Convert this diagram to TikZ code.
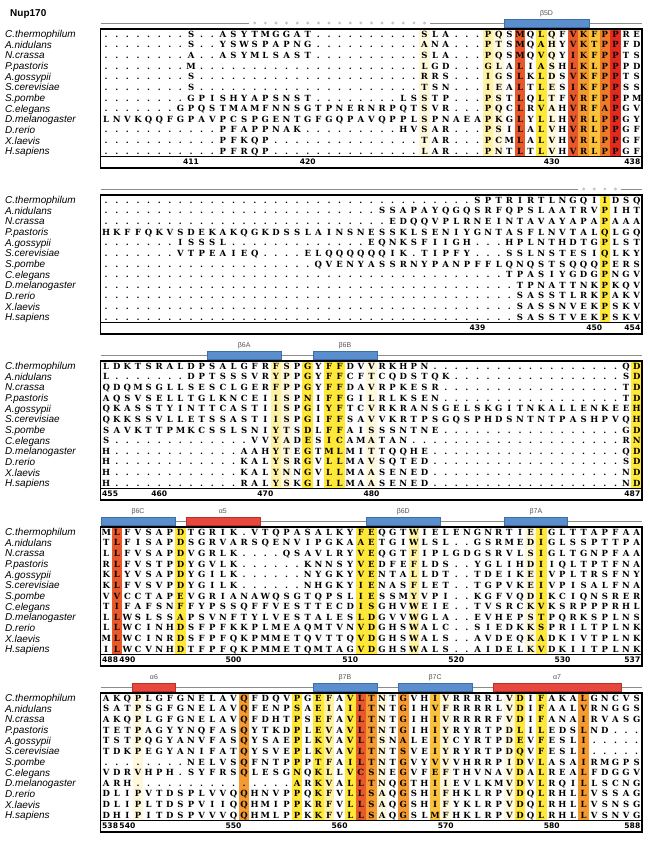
\documentclass[tikz,border=0pt]{standalone}
\usepackage{fontspec}
\setmainfont{Liberation Sans}
\newfontfamily\seqfont{DejaVu Serif}
\newfontfamily\numfont{DejaVu Sans}
\definecolor{cA}{HTML}{FFF8DC}
\definecolor{cB}{HTML}{FFF3A3}
\definecolor{cC}{HTML}{FFE838}
\definecolor{cD}{HTML}{FCC23C}
\definecolor{cE}{HTML}{F49A30}
\definecolor{cF}{HTML}{EE7A2C}
\definecolor{cG}{HTML}{E8582A}
\definecolor{cH}{HTML}{E42A1E}
\definecolor{ssblue}{HTML}{5B8ECC}
\definecolor{ssblueD}{HTML}{3E6FAA}
\definecolor{ssred}{HTML}{E8473D}
\definecolor{ssredD}{HTML}{B83228}
\definecolor{linegray}{HTML}{8C8C8C}
\definecolor{dotgray}{HTML}{C4C4C4}
\definecolor{labgray}{HTML}{555555}
\newcount\colc
\def\BF{0}
\def\blk{0}
\def\rowid{0}
\def\dorow#1#2{\colc=0 \def\rowid{#1}\rowloop#2\relax}
\def\rowloop#1{\ifx#1\relax\else\advance\colc by 1\relax\node[seqch] (s\blk-\rowid-\the\colc) at ({100.9+(\the\colc-0.5)*10.61},{\BF+\rowid*10.65+3.1}) {#1};\expandafter\rowloop\fi}
\newcommand\colsh[2]{\fill[#2] ({100.9+(#1-1)*10.61},{\BF-5}) rectangle ({100.9+#1*10.61},{\BF+122.5});}
\newcommand\numlab[2]{\node[numst] (num\blk-#1) at ({100.9+(#1-0.5)*10.61},{\BF+130.8}) {#2};}
\newcommand\numlabL[1]{\node[numst,anchor=base west] (numL\blk) at (102,{\BF+130.8}) {#1};}
\newcommand\numlabR[1]{\node[numst,anchor=base east] (numR\blk) at (640.5,{\BF+130.8}) {#1};}
\newcommand\ssbox[4]{\draw[#1] ({100.9+(#2-1)*10.61},{\BF-15.2}) rectangle ({100.9+#3*10.61},{\BF-6.8});
  \node[sslab] (lab\blk-#2) at ({100.9+(#2+#3-1)/2*10.61},{\BF-20.5}) {#4};}
\newcommand\ssdot[1]{\fill[dotgray] ({100.9+(#1-0.5)*10.61},{\BF-11}) circle (1.6pt);}
\newcommand\ssfull{\draw[ssline] (100.9,{\BF-11}) -- (642,{\BF-11});}
\newcommand\alnframe{\draw[alnframest] (100.5,{\BF-5}) rectangle (642,{\BF+134});
  \draw[sepst] (100.5,{\BF+122.5}) -- (642,{\BF+122.5});}
\newcommand\spnames{\foreach \nmx [count=\i from 0] in {C.thermophilum,A.nidulans,N.crassa,P.pastoris,A.gossypii,S.cerevisiae,S.pombe,C.elegans,D.melanogaster,D.rerio,X.laevis,H.sapiens}{\node[namest] (nm\blk-\i) at (5,{\BF+\i*10.65+3.6}) {\nmx};}}
\begin{document}
\begin{tikzpicture}[x=1pt,y=-1pt,
  seqch/.style={anchor=base,inner sep=0pt,font=\seqfont\bfseries\fontsize{8.5}{10}\selectfont},
  namest/.style={anchor=base west,inner sep=0pt,font=\itshape\fontsize{10}{12}\selectfont},
  numst/.style={anchor=base,inner sep=0pt,font=\numfont\bfseries\fontsize{7.6}{10}\selectfont},
  sslab/.style={inner sep=0pt,font=\fontsize{7}{8}\selectfont,text=labgray},
  ssline/.style={draw=linegray,line width=0.8pt},
  bluebox/.style={fill=ssblue,draw=ssblueD,line width=0.5pt},
  redbox/.style={fill=ssred,draw=ssredD,line width=0.5pt},
  alnframest/.style={draw=black,line width=1.2pt},
  sepst/.style={draw=black,line width=0.8pt}]
\useasboundingbox[fill=white] (0,0) rectangle (650,843);
\node[anchor=base west,inner sep=0pt,font=\bfseries\fontsize{10}{12}\selectfont] (title) at (10,17) {Nup170};
% ---------------- block 1
\def\BF{34}\def\blk{1}
\colsh{31}{cA}\colsh{37}{cB}\colsh{38}{cA}\colsh{40}{cG}\colsh{42}{cC}\colsh{43}{cA}
\colsh{45}{cG}\colsh{46}{cE}\colsh{47}{cD}\colsh{48}{cF}\colsh{49}{cH}
\draw[ssline] (100.9,{\BF-11}) -- ({100.9+14*10.61},{\BF-11});
\foreach \k in {15,...,31}{\ssdot{\k}}
\draw[ssline] ({100.9+31*10.61},{\BF-11}) -- (642,{\BF-11});
\ssbox{bluebox}{39}{46}{β5D}
\dorow{0}{........S..ASYTMGGAT..........SLA...PQSMQLQFVKFPPRE}
\dorow{1}{........S..YSWSPAPNG..........ANA...PTSMQAHYVKTPPFD}
\dorow{2}{........A..ASYMLSAST..........SLA...PQSMQVQYIKFPPTS}
\dorow{3}{........M.....................LGD...GLALIASHLKLPPPD}
\dorow{4}{........S.....................RRS...IGSLKLDSVKFPPTS}
\dorow{5}{........S.....................TSN...IEALTLESIKFPPSS}
\dorow{6}{........GPISHYAPSNST........LSSTP...PSTLQLTFVRFPPPM}
\dorow{7}{.......GPQSTMAMFNNSGTPNERNRPQTSVR...PQCLRVAHVRFAPGV}
\dorow{8}{LNVKQQFGPAVPCSPGENTGFGQPAVQPPLSPNAEAPKGLYLLHVRLPPGY}
\dorow{9}{...........PFAPPNAK.........HVSAR...PSILALVHVRLPPGF}
\dorow{10}{...........PFKQP..............TAR...PCMLALVHVRLPPGF}
\dorow{11}{...........PFRQP..............LAR...PNTLTLVHVRLPPGF}
\spnames\alnframe
\numlab{9}{411}\numlab{20}{420}\numlab{43}{430}\numlabR{438}
% ---------------- block 2
\def\BF{200}\def\blk{2}
\colsh{48}{cC}
\draw[ssline] (100.9,{\BF-11}) -- ({100.9+45*10.61},{\BF-11});
\foreach \k in {46,...,49}{\ssdot{\k}}
\draw[ssline] ({100.9+49*10.61},{\BF-11}) -- (642,{\BF-11});
\dorow{0}{...................................SPTRIRTLNGQIIDSQ}
\dorow{1}{..........................SSAPAYQGQSRFQPSLAATRVPIHT}
\dorow{2}{...........................EDQQVPLRNEINTAVAYAPAPAAA}
\dorow{3}{HKFFQKVSDEKAKQGKDSSLAINSNESSKLSENIYGNTASFLNVTALQLGQ}
\dorow{4}{.......ISSSL.............EQNKSFIIGH...HPLNTHDTGPLST}
\dorow{5}{.......VTPEAIEQ....ELQQQQQQIK.TIPFY...SSLNSTESIQLKY}
\dorow{6}{....................QVENYASSRNYPANPFFLQNQSTSQQQPERS}
\dorow{7}{......................................TPASIYGDGPNGV}
\dorow{8}{.......................................TPNATTNKPKQV}
\dorow{9}{.......................................SASSTLRKPAKV}
\dorow{10}{.......................................SASSNVEKPSKV}
\dorow{11}{.......................................SASSTVEKPSKV}
\spnames\alnframe
\numlab{36}{439}\numlab{47}{450}\numlabR{454}
% ---------------- block 3
\def\BF{366}\def\blk{3}
\colsh{17}{cB}\colsh{18}{cA}\colsh{20}{cC}\colsh{22}{cC}\colsh{23}{cC}\colsh{26}{cA}\colsh{51}{cC}
\ssfull
\ssbox{bluebox}{11}{17}{β6A}
\ssbox{bluebox}{21}{26}{β6B}
\dorow{0}{LDKTSRALDPSALGFRFSPGYFFDVVRKHPN..................QD}
\dorow{1}{L.......DPTSSSVRYPPGYFFCFTCQDSTQK................SD}
\dorow{2}{QDQMSGLLSESCLGERFPPGYFFDAVRPKESR.................TD}
\dorow{3}{AQSVSELLTGLKNCEIISPNIFFGILRLKSEN.................TD}
\dorow{4}{QKASSTYINTTCASTIISPGIYFTCVRKRANSGELSKGITNKALLENKEEH}
\dorow{5}{QKKSSVLLETSSASTIISPGIFFSAVVKRTPSGQSPHDSNTNTPASHPVQH}
\dorow{6}{SAVKTTPMKCSSLSNIYTSDLFFAISSSNTNE.................GD}
\dorow{7}{S.............VVYADESICAMATAN....................RN}
\dorow{8}{H............AAHYTEGTMLMITTQQHE..................QD}
\dorow{9}{H............KALYSRGVLLMAVSQTED..................SD}
\dorow{10}{H............KALYNNGVLLMAASENED..................ND}
\dorow{11}{H............RALYSKGILLMAASENED..................ND}
\spnames\alnframe
\numlabL{455}\numlab{6}{460}\numlab{16}{470}\numlab{26}{480}\numlabR{487}
% ---------------- block 4
\def\BF{532}\def\blk{4}
\colsh{2}{cG}\colsh{8}{cC}\colsh{25}{cC}\colsh{26}{cC}\colsh{30}{cB}\colsh{41}{cA}\colsh{42}{cC}
\ssfull
\ssbox{bluebox}{1}{7}{β6C}
\ssbox{redbox}{9}{15}{α5}
\ssbox{bluebox}{26}{32}{β6D}
\ssbox{bluebox}{39}{44}{β7A}
\dorow{0}{MLFVSAPDTGRIK.VTQPASALKYFEQGTWIELENGNRTIEIGLTTAPFAA}
\dorow{1}{TLFISAPDSGRVARSQENVIPGKAAETGIWLSL..GSRMEDIGLSSPTTPA}
\dorow{2}{LLFVSAPDVGRLK....QSAVLRYVEQGTFIPLGDGSRVLSIGLTGNPFAA}
\dorow{3}{RLFVSTPDYGVLK......KNNSYVEDFEFLDS..YGLIHDIIQLTPTFNA}
\dorow{4}{KLYVSAPDYGILK......NYGKYVENTALLDT..TDEIKEIVPLTRSFNY}
\dorow{5}{KLFVSVPDYGILK......NHGKYIENASFLET..TGPVKEIVPISALFNA}
\dorow{6}{VVCCTAPEVGRIANAWQSGTQPSLIESSMYVPI..KGFVQDIKCIQNSRER}
\dorow{7}{TIFAFSNFFYPSSQFFVESTTECDISGHVWEIE..TVSRCKVKSRPPPRHL}
\dorow{8}{LLWSLSSAPSVNFTYLVESTALESLDGVVWGLA..EVHEPSTPQRKSPLNS}
\dorow{9}{LLWCINHDSFPFKKPLMEAQMTVNVDGHSWALC..SIEDKKSPRILTPLNK}
\dorow{10}{MLWCINRDSFPFQKPMMETQVTTQVDGHSWALS..AVDEQKADKIVTPLNK}
\dorow{11}{ILWCVNHDTFPFQKPMMETQMTAGVDGHSWALS..AIDELKVDKIITPLNK}
\spnames\alnframe
\numlabL{488}\numlab{3}{490}\numlab{13}{500}\numlab{24}{510}\numlab{34}{520}\numlab{44}{530}\numlabR{537}
% ---------------- block 5
\def\BF{698}\def\blk{5}
\colsh{4}{cA}\colsh{14}{cE}\colsh{19}{cC}\colsh{21}{cC}\colsh{22}{cB}\colsh{24}{cC}\colsh{25}{cG}
\colsh{26}{cE}\colsh{27}{cA}\colsh{29}{cE}\colsh{32}{cD}\colsh{33}{cA}\colsh{39}{cA}\colsh{40}{cC}
\colsh{42}{cC}\colsh{46}{cE}
\ssfull
\ssbox{redbox}{4}{7}{α6}
\ssbox{bluebox}{21}{26}{β7B}
\ssbox{bluebox}{29}{35}{β7C}
\ssbox{redbox}{38}{49}{α7}
\dorow{0}{AKQPLGFGNELAVQFDQVPGEFAVLTNTGVHIVRRRRLVDIFAKALGNCVS}
\dorow{1}{SATPSGFGNELAVQFENPSAEIAILTNTGIHVFRRRRLVDIFAALVRNGGS}
\dorow{2}{AKQPLGFGNELAVQFDHTPSEFAVLTNTGIHIVRRRRFVDIFANAIRVASG}
\dorow{3}{TETPAGYYNQFASQYTKDPLEVAVLTNTGIHIYRYRTPDLILEDSLND...}
\dorow{4}{TSTPQGYANVFASQYSAEPLKVAVLTSNALEIYCYRTPDEVFESLI.....}
\dorow{5}{TDKPEGYANIFATQYSVEPLKVAVLTNTSVEIYRYRTPDQVFESLI.....}
\dorow{6}{........NELVSQFNTPPPTFAILTNTGVYVVVHRRPIDVLASAIRMGPS}
\dorow{7}{VDRVHPH.SYFRSQLESGNQKLLVCSNEGVFEFTHVNAVDALREALFDGGV}
\dorow{8}{ARH...............ARKVALLTNQGTHIIEVLKMVDVLRQILLSCNG}
\dorow{9}{DLIPVTDSPLVVQQHNVPPQKFVLLSAQGSHIFHKLRPVDQLRHLLVSSAG}
\dorow{10}{DLIPLTDSPVIIQQHMIPPKRFVLLSAQGSHIFYKLRPVDQLRHLLVSNSG}
\dorow{11}{DHIPITDSPVVVQQHMLPPKKFVLLSAQGSLMFHKLRPVDQLRHLLVSNVG}
\spnames\alnframe
\numlabL{538}\numlab{3}{540}\numlab{13}{550}\numlab{23}{560}\numlab{33}{570}\numlab{43}{580}\numlabR{588}
\end{tikzpicture}
\end{document}
